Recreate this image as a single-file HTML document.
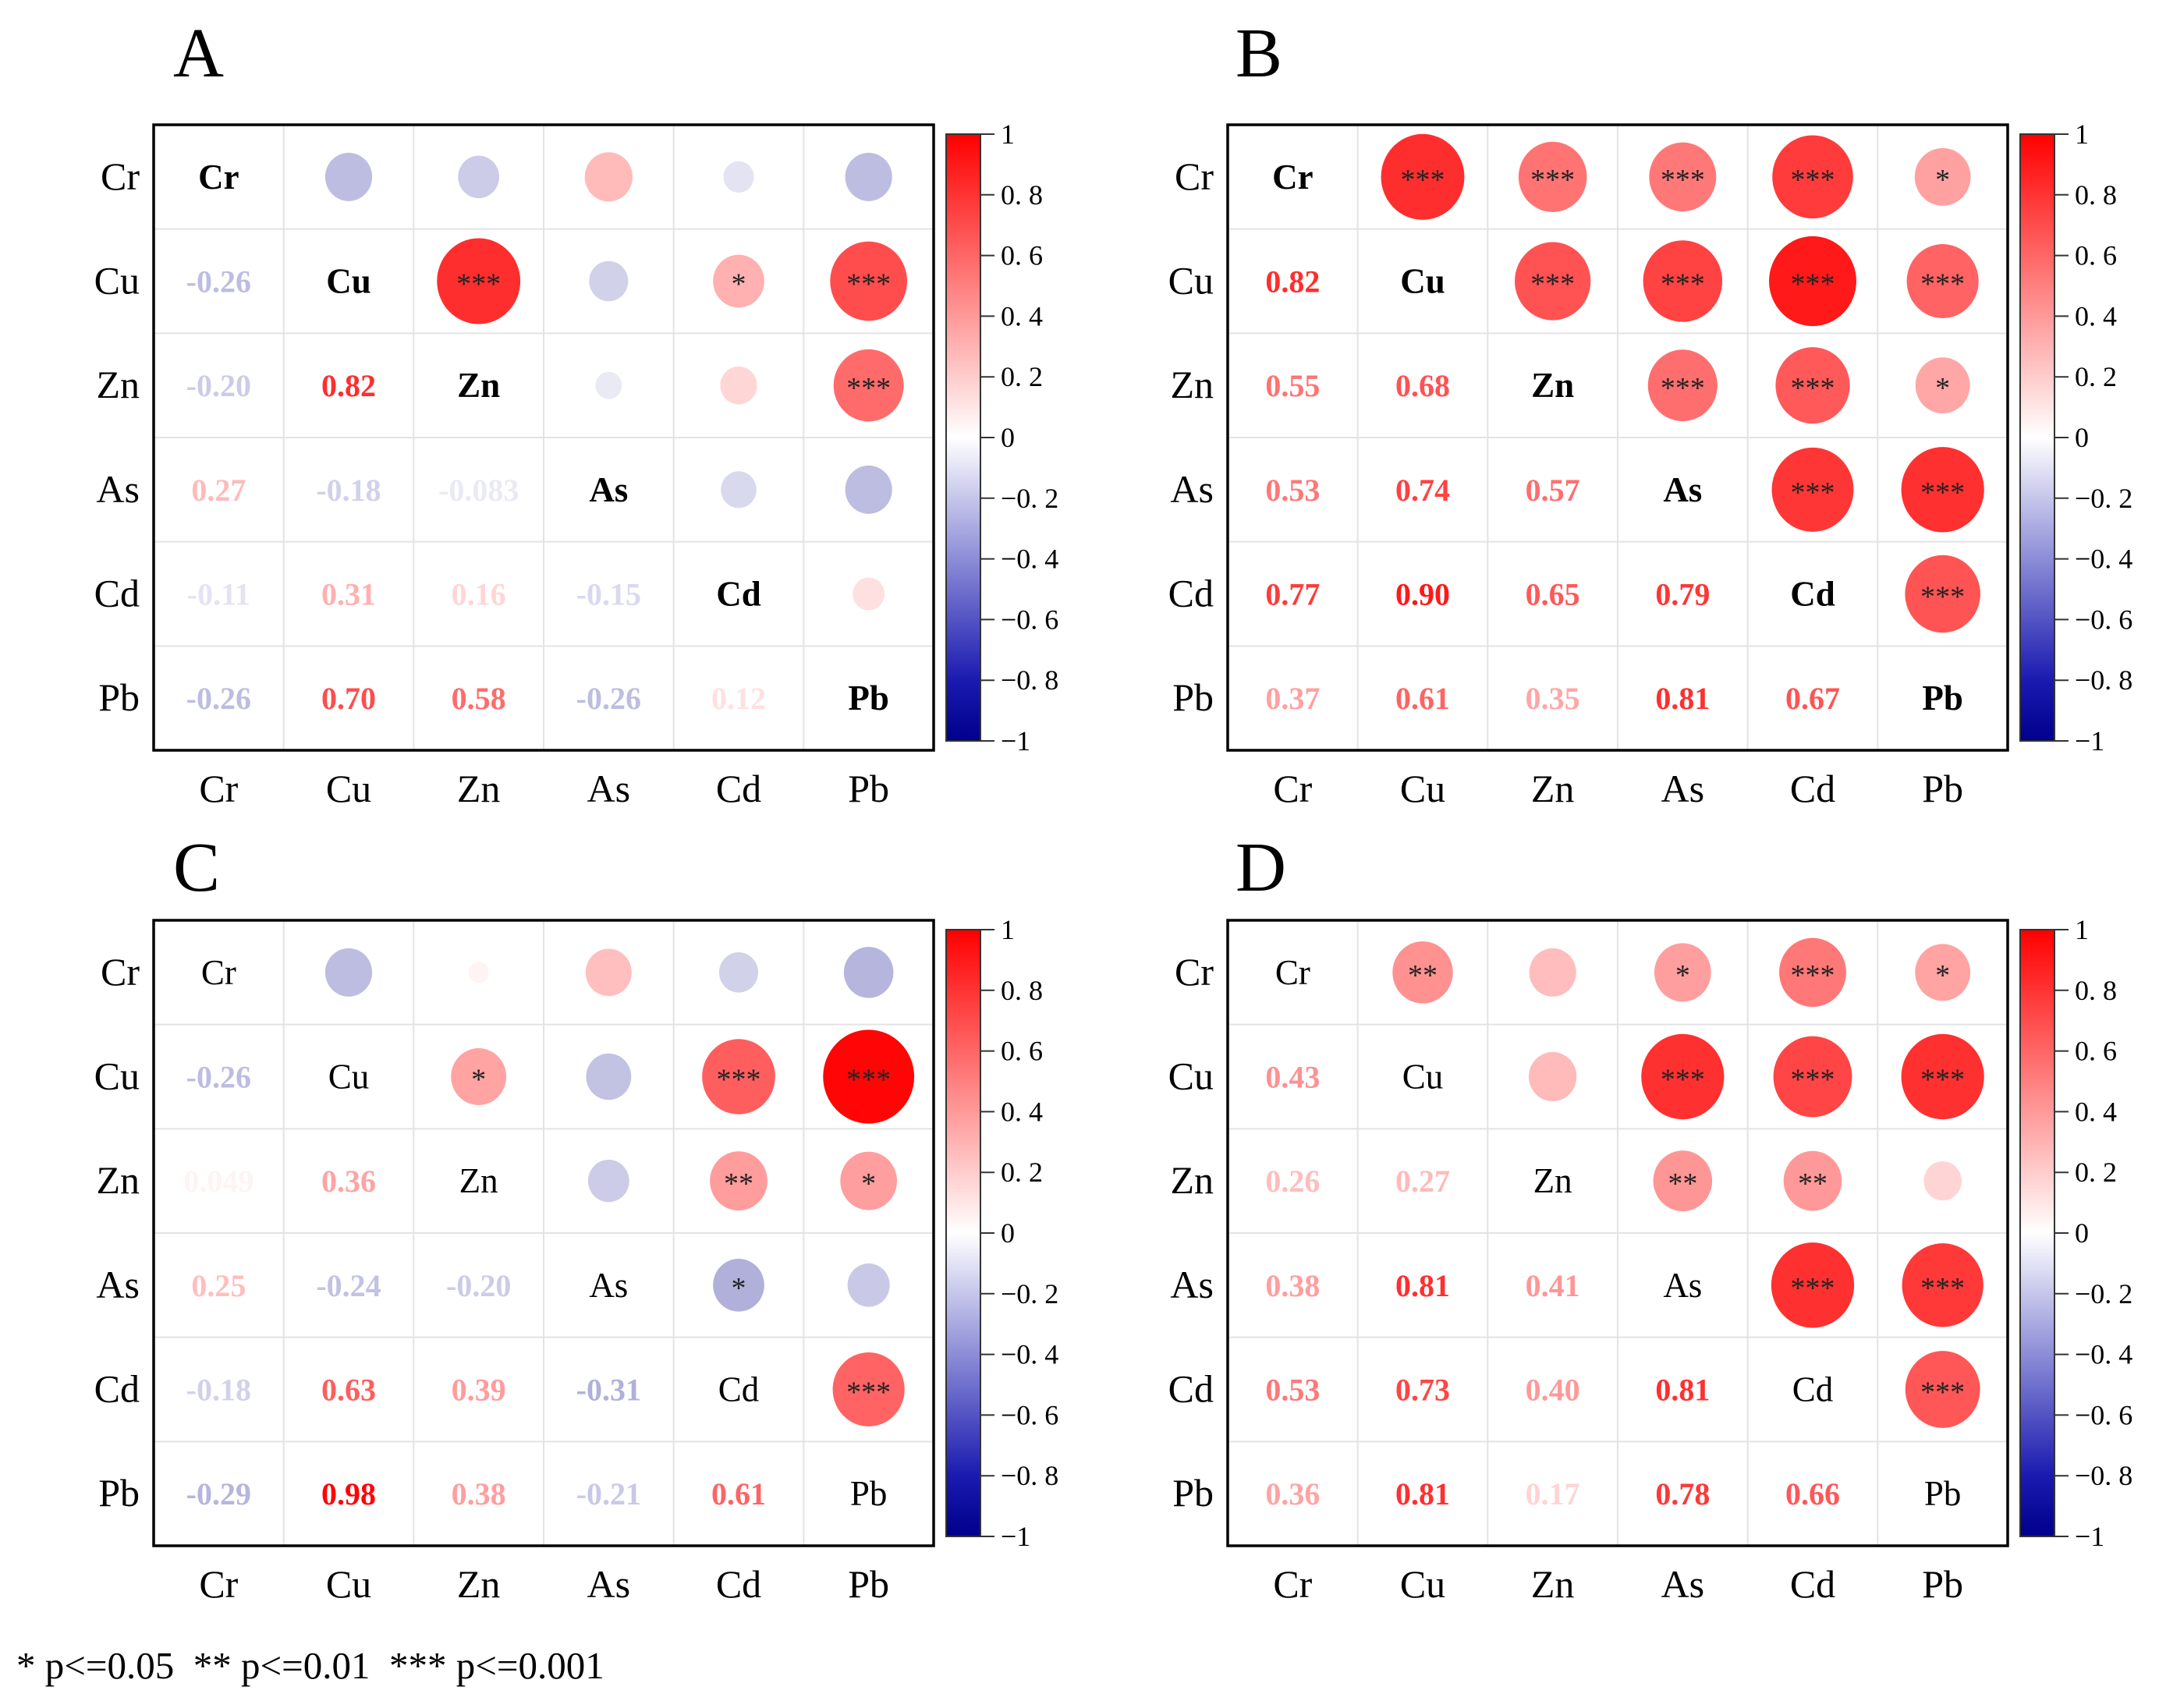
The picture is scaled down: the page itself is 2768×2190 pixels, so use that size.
<!DOCTYPE html>
<html><head><meta charset="utf-8"><style>
html,body{margin:0;padding:0;background:#fff;}
svg{display:block;font-family:"Liberation Serif",serif;}
</style></head><body>
<svg id="fig" width="2768" height="2190" viewBox="0 0 2768 2190" xmlns="http://www.w3.org/2000/svg">
<defs>
<linearGradient id="cbar" x1="0" y1="1" x2="0" y2="0">
<stop offset="0" stop-color="#00008b"/><stop offset="0.1" stop-color="#1a1ab0"/><stop offset="0.5" stop-color="#ffffff"/><stop offset="1" stop-color="#ff0000"/>
</linearGradient>
</defs>
</svg>
<script>
const vars = ["Cr","Cu","Zn","As","Cd","Pb"];
const corrA = [[],[-0.26],[-0.20,0.82],[0.27,-0.18,-0.083],[-0.11,0.31,0.16,-0.15],[-0.26,0.70,0.58,-0.26,0.12]];
const corrB = [[],[0.82],[0.55,0.68],[0.53,0.74,0.57],[0.77,0.90,0.65,0.79],[0.37,0.61,0.35,0.81,0.67]];
const corrC = [[],[-0.26],[0.049,0.36],[0.25,-0.24,-0.20],[-0.18,0.63,0.39,-0.31],[-0.29,0.98,0.38,-0.21,0.61]];
const corrD = [[],[0.43],[0.26,0.27],[0.38,0.81,0.41],[0.53,0.73,0.40,0.81],[0.36,0.81,0.17,0.78,0.66]];
const sigA = [["","","","",""],["***","","*","***"],["","","***"],["",""],[""]];
const sigB = [["***","***","***","***","*"],["***","***","***","***"],["***","***","*"],["***","***"],["***"]];
const sigC = [["","","","",""],["*","","***","***"],["","**","*"],["*",""],["***"]];
const sigD = [["**","","*","***","*"],["","***","***","***"],["**","**",""],["***","***"],["***"]];
const cbTicks = [1,0.8,0.6,0.4,0.2,0,-0.2,-0.4,-0.6,-0.8,-1];
const cbLabels = ["1","0. 8","0. 6","0. 4","0. 2","0","\u22120. 2","\u22120. 4","\u22120. 6","\u22120. 8","\u22121"];

const NS="http://www.w3.org/2000/svg";
const svg=document.getElementById('fig');
function mk(tag,attrs,parent){const e=document.createElementNS(NS,tag);for(const k in attrs)e.setAttribute(k,attrs[k]);(parent||svg).appendChild(e);return e;}
function color(r){
  if(r>=0){const v=Math.round(255*(1-r));return `rgb(255,${v},${v})`;}
  const t=-r;const v=Math.round(255*(1-t));const b=Math.round(255-116*t);return `rgb(${v},${v},${b})`;
}
function fmt(v){if(Math.abs(v)<0.1&&v!==0){return (v<0?"-":"")+Math.abs(v).toFixed(3);}return v.toFixed(2);}

const panels=[
 {id:"a",title:"A",corr:corrA,sig:sigA,x:197,y:160,boldDiag:true,cb:1213,tx:222,ty:98},
 {id:"b",title:"B",corr:corrB,sig:sigB,x:1574,y:160,boldDiag:true,cb:2590,tx:1584,ty:98},
 {id:"c",title:"C",corr:corrC,sig:sigC,x:197,y:1180,boldDiag:false,cb:1213,tx:222,ty:1142},
 {id:"d",title:"D",corr:corrD,sig:sigD,x:1574,y:1180,boldDiag:false,cb:2590,tx:1584,ty:1142}
];
const W=1000,H=802,cw=W/6,ch=H/6;
function sx(p,j){return p.x+cw*(j+0.5);}
function sy(p,i){return p.y+ch*(i+0.5);}

panels.forEach(p=>{
  const g=mk('g',{});
  
  
  const t=mk('text',{x:p.tx,y:p.ty,'font-size':90},g);t.textContent=p.title;
  
  
  for(let k=1;k<6;k++){
    const gl=mk('line',{x1:p.x+cw*k,y1:p.y,x2:p.x+cw*k,y2:p.y+H,stroke:'#e3e3e3','stroke-width':2},g);
    
    
    const gh=mk('line',{x1:p.x,y1:p.y+ch*k,x2:p.x+W,y2:p.y+ch*k,stroke:'#e3e3e3','stroke-width':2},g);
    
    
  }
  for(let i=0;i<6;i++){
    const rl=mk('text',{x:p.x-18,y:sy(p,i)+16,'font-size':50,'text-anchor':'end'},g);rl.textContent=vars[i];
    
    
    const cl=mk('text',{x:sx(p,i),y:p.y+H+66,'font-size':50,'text-anchor':'middle'},g);cl.textContent=vars[i];
    
    
    for(let j=0;j<6;j++){
      if(i===j){
        const d=mk('text',{x:sx(p,j),y:sy(p,i)+15,'font-size':45,'text-anchor':'middle','font-weight':p.boldDiag?'bold':'normal'},g);d.textContent=vars[i];
        
        
      } else if(j<i){
        const v=p.corr[i][j];
        const tx=mk('text',{x:sx(p,j),y:sy(p,i)+14,'font-size':40,'font-weight':'bold','text-anchor':'middle',fill:color(v)},g);tx.textContent=fmt(v);
        
        
      } else {
        const v=p.corr[j][i];
        const r=59*Math.sqrt(Math.abs(v));
        const c=mk('ellipse',{cx:sx(p,j),cy:sy(p,i),rx:r,ry:r*1.03,fill:color(v)},g);
        
        
        const s=p.sig[i][j-i-1];
        if(s){const st=mk('text',{x:sx(p,j),y:sy(p,i)+16,'font-size':38,'text-anchor':'middle',fill:'#222'},g);st.textContent=s;
          
          }
      }
    }
  }
  const b=mk('rect',{x:p.x,y:p.y,width:W,height:H,fill:'none',stroke:'#000','stroke-width':3.5},g);
  
  
  const cy0=p.y+12,cy1=p.y+H-12,cbh=cy1-cy0;
  const cb=mk('rect',{x:p.cb,y:cy0,width:44,height:cbh,fill:'url(#cbar)',stroke:'#333','stroke-width':2},g);
  
  
  cbTicks.forEach((v,k)=>{
    const yy=cy0+(1-v)/2*cbh;
    const tl=mk('line',{x1:p.cb+44,y1:yy,x2:p.cb+62,y2:yy,stroke:'#333','stroke-width':2},g);
    
    
    const tt=mk('text',{x:p.cb+70,y:yy+12,'font-size':36},g);tt.textContent=cbLabels[k];
    
    
  });
});
const fn=mk('text',{x:21,y:2152,'font-size':49});
fn.textContent="* p<=0.05  ** p<=0.01  *** p<=0.001";


fn.style.whiteSpace='pre';
</script>
</body></html>
